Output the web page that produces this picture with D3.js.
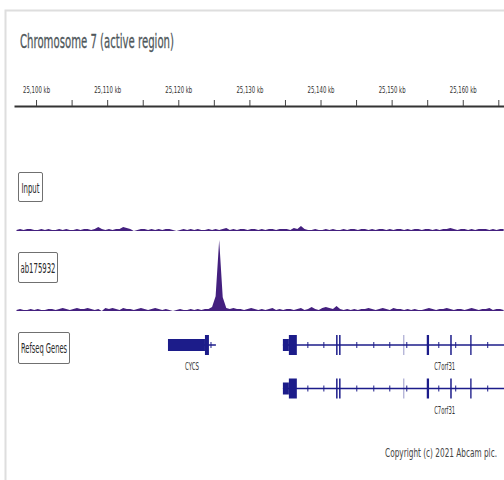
<!DOCTYPE html>
<html>
<head>
<meta charset="utf-8">
<script src="https://cdn.jsdelivr.net/npm/d3@7/dist/d3.min.js"></script>
<style>
  body { margin: 0; background: #fff; }
  svg { display: block; }
</style>
</head>
<body>
<svg id="chart"></svg>
<script>
// visible window of chromosome 7, in kb
const viewStart = 25096.9
const viewEnd = 25165.8
const tickKb = [25100, 25105, 25110, 25115, 25120, 25125, 25130, 25135, 25140, 25145, 25150, 25155, 25160, 25165]
const labelKb = [25100, 25110, 25120, 25130, 25140, 25150, 25160]

// coverage, 0.5 kb bins starting at binStart
const binStart = 25097
const binSize = 0.5
const inputSignal = [
  1,2,1,2,2,1,1,2,1,2,1,1,2,1,2,1,1,2,1,2,2,1,2,
  4,2,1,2,1,2,2,4,3,2,0,1,2,2,1,2,1,2,1,2,2,1,0,
  1,2,1,2,1,2,1,1,2,1,2,1,2,3,1,2,1,2,2,1,2,2,1,
  2,1,2,2,1,2,2,2,1,3,2,5,2,1,1,2,1,1,2,1,2,1,1,
  2,1,2,2,1,2,2,1,2,1,2,2,1,2,1,2,2,1,2,1,2,2,1,
  2,2,1,2,1,2,2,3,2,1,2,2,1,2,1,2,2,2,1,2,1,2,2
]
const abSignal = [
  1,2,1,1,2,1,2,1,1,2,2,1,2,3,2,1,2,3,2,2,3,2,1,
  2,0,3,2,3,2,1,3,2,2,1,2,3,2,1,2,3,2,1,2,1,0,1,
  2,1,1,2,1,2,1,2,2,4,15,72,14,3,2,3,2,2,1,2,3,2,1,
  2,1,2,3,1,2,1,2,2,1,2,3,1,2,4,2,1,3,4,3,2,5,2,
  1,2,1,2,1,2,2,3,2,1,2,3,2,1,3,2,2,1,2,1,2,1,1,
  2,3,2,1,2,2,3,2,1,2,2,1,2,3,2,1,2,2,3,1,2,2,1
]

const trackNames = ["Input", "ab175932", "Refseq Genes"]

// genes (kb)
const cycsSpan = [25118.55, 25125.29]
const cycsExons = [
  {start: 25118.55, end: 25123.75, kind: "utr"},
  {start: 25123.75, end: 25124.31, kind: "cds"}
]
const cycsMarks = [25124.6]

const c7Span = [25134.71, 25180.2]
const c7Exons = [
  {start: 25134.71, end: 25135.55, kind: "utr"},
  {start: 25135.55, end: 25136.67, kind: "cds"},
  {start: 25142.19, end: 25142.40, kind: "cds"},
  {start: 25142.61, end: 25142.82, kind: "cds"},
  {start: 25151.64, end: 25151.78, kind: "faint"},
  {start: 25154.94, end: 25155.26, kind: "cds"},
  {start: 25158.24, end: 25158.45, kind: "cds"},
  {start: 25161.05, end: 25161.24, kind: "cds"}
]
const c7Marks = [25138.22, 25140.47, 25145.10, 25147.49, 25149.74, 25152.13, 25156.63, 25159.01, 25163.51]

const width = 504
const height = 480
const purple = "#44207f"
const navy = "#1c1c8a"
const narrow = "'Liberation Sans Narrow', 'DejaVu Sans Condensed', 'Liberation Sans', sans-serif"

let svg = d3.select("#chart")
    .attr("width", width)
    .attr("height", height)

// frame
svg.append("path")
    .attr("d", `M5.5,${height} V10.5 H${width}`)
    .attr("fill", "none")
    .attr("stroke", "#dedede")
    .attr("stroke-width", 2)

svg.append("text")
    .text("Chromosome 7 (active region)")
    .attr("x", 20)
    .attr("y", 48)
    .attr("font-family", narrow)
    .attr("font-size", 20)
    .attr("fill", "#4f575b")
    .attr("stroke", "#4f575b")
    .attr("stroke-width", 0.3)
    .attr("textLength", 154)
    .attr("lengthAdjust", "spacingAndGlyphs")

let xScale = d3.scaleLinear()
    .domain([viewStart, viewEnd])
    .range([14, width])

// ruler
let axis = svg.append("g")
    .attr("transform", "translate(0, 106)")
    .call(d3.axisTop(xScale)
        .tickValues(tickKb)
        .tickSize(6)
        .tickSizeOuter(0)
        .tickPadding(7)
        .tickFormat(d => labelKb.includes(d) ? d3.format(",")(d) + " kb" : ""))

axis.select(".domain").attr("stroke", "#333").attr("stroke-width", 2)
axis.selectAll(".tick line").attr("stroke", "#444")
axis.selectAll(".tick text")
    .attr("font-family", narrow)
    .attr("font-size", 9)
    .attr("fill", "#333")
    .filter(d => labelKb.includes(d))
    .attr("textLength", 27)
    .attr("lengthAdjust", "spacingAndGlyphs")

// track label boxes
let boxes = [
  {x: 18, y: 172, w: 24, h: 29, tw: 18, ty: 193},
  {x: 18, y: 252, w: 39, h: 30, tw: 35, ty: 273},
  {x: 18, y: 332, w: 51, h: 31, tw: 46, ty: 353}
]
boxes.forEach((b, i) => {
    svg.append("rect")
        .attr("x", b.x + 1).attr("y", b.y + 1)
        .attr("width", b.w).attr("height", b.h)
        .attr("rx", 1.5)
        .attr("fill", "#d8d8d8")
    svg.append("rect")
        .attr("x", b.x + 0.5).attr("y", b.y + 0.5)
        .attr("width", b.w).attr("height", b.h)
        .attr("rx", 1.5)
        .attr("fill", "#fff")
        .attr("stroke", "#707070")
    svg.append("text")
        .text(trackNames[i])
        .attr("x", b.x + b.w / 2 + 0.5)
        .attr("y", b.ty)
        .attr("text-anchor", "middle")
        .attr("font-family", narrow)
        .attr("font-size", 14)
        .attr("fill", "#2a2a2a")
        .attr("textLength", b.tw)
        .attr("lengthAdjust", "spacingAndGlyphs")
})

// coverage tracks
let yScale = d3.scaleLinear().domain([0, 72]).range([0, 71])

function drawSignal(values, baseline) {
    let area = d3.area()
        .x((d, i) => xScale(binStart + i * binSize + binSize / 2))
        .y0(baseline)
        .y1(d => baseline - yScale(d))
    svg.append("path")
        .datum(values)
        .attr("d", area)
        .attr("fill", purple)
}
drawSignal(inputSignal, 231)
drawSignal(abSignal, 311)

// gene models
function drawGene(span, exons, marks, cy, name, labelWidth) {
    let g = svg.append("g")
    g.append("line")
        .attr("x1", xScale(span[0])).attr("x2", xScale(span[1]))
        .attr("y1", cy).attr("y2", cy)
        .attr("stroke", navy)
        .attr("stroke-width", 1.5)
    g.selectAll(".mark")
        .data(marks)
        .enter()
        .append("line")
        .attr("x1", d => xScale(d)).attr("x2", d => xScale(d))
        .attr("y1", cy - 3).attr("y2", cy + 3)
        .attr("stroke", navy)
        .attr("stroke-width", 1)
    g.selectAll(".exon")
        .data(exons)
        .enter()
        .append("rect")
        .attr("x", d => xScale(d.start))
        .attr("width", d => Math.max(1, xScale(d.end) - xScale(d.start)))
        .attr("y", d => d.kind == "utr" ? cy - 6 : cy - 10)
        .attr("height", d => d.kind == "utr" ? 12 : 20)
        .attr("fill", navy)
        .attr("opacity", d => d.kind == "faint" ? 0.45 : 1)
    let mid = (xScale(span[0]) + xScale(span[1])) / 2
    svg.append("text")
        .text(name)
        .attr("x", mid)
        .attr("y", cy + 25)
        .attr("text-anchor", "middle")
        .attr("font-family", narrow)
        .attr("font-size", 10)
        .attr("fill", "#333")
        .attr("textLength", labelWidth)
        .attr("lengthAdjust", "spacingAndGlyphs")
}
drawGene(cycsSpan, cycsExons, cycsMarks, 345, "CYCS", 14)
drawGene(c7Span, c7Exons, c7Marks, 345, "C7orf31", 21)
drawGene(c7Span, c7Exons, c7Marks, 388.5, "C7orf31", 21)

// copyright: squeezed with a transform so its box stays inside the page
let copy = svg.append("text")
    .text("Copyright (c) 2021 Abcam plc.")
    .attr("text-anchor", "end")
    .attr("font-family", narrow)
    .attr("font-size", 12)
    .attr("fill", "#444")
let natural = copy.node().getComputedTextLength()
copy.attr("transform", `translate(497, 457) scale(${112 / natural}, 1)`)
</script>
</body>
</html>
